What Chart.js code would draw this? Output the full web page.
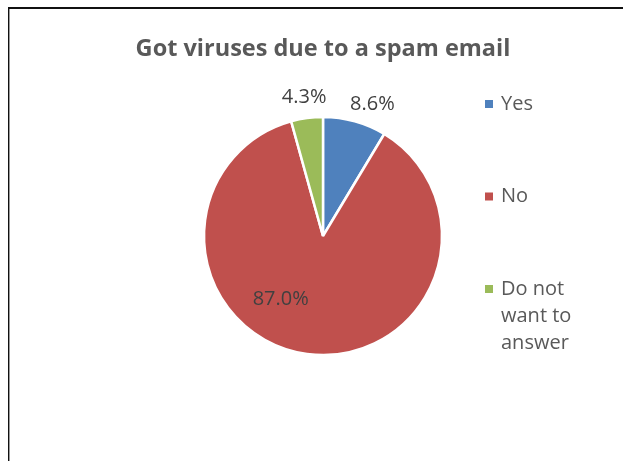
<!DOCTYPE html>
<html>
<head>
<meta charset="utf-8">
<script src="https://cdn.jsdelivr.net/npm/chart.js@4.4.1/dist/chart.umd.min.js"></script>
<style>
  html, body { margin: 0; padding: 0; background: #ffffff; overflow: hidden; }
  canvas { display: block; }
</style>
</head>
<body>
<canvas id="chart" width="623" height="461"></canvas>
<script>
// Survey answers: share of respondents (percent) per answer
const chartTitle = 'Got viruses due to a spam email';
const categories = ['Yes', 'No', 'Do not want to answer'];
const shares = [8.6, 87.0, 4.3];
const sliceColors = ['#4F81BD', '#C0504D', '#9BBB59'];

// Where each value label sits: fraction of the radius, and a turn (degrees) off the slice middle
const labelRadius = [1.185, 0.64, 1.175];
const labelTurn = [5, 26, 0];

const FONT = '"Open Sans", "Noto Sans", sans-serif';
const TEXT_DARK = '#404040';
const TEXT_GREY = '#595959';

// Frame around the chart, white background and the heading centred over the pie
const framePlugin = {
  id: 'frame',
  beforeDraw(chart) {
    const ctx = chart.ctx;
    const area = chart.chartArea;
    ctx.save();
    ctx.fillStyle = '#ffffff';
    ctx.fillRect(0, 0, chart.width, chart.height);
    ctx.fillStyle = '#111111';
    ctx.fillRect(8, 7, chart.width - 8, 2);
    ctx.fillRect(8, 7, 1, chart.height - 7);
    ctx.fillStyle = '#9a9a9a';
    ctx.fillRect(9, 9, 1, chart.height - 9);
    ctx.font = 'bold 23.5px ' + FONT;
    ctx.fillStyle = TEXT_GREY;
    ctx.textAlign = 'center';
    ctx.textBaseline = 'alphabetic';
    ctx.fillText(chartTitle, (area.left + area.right) / 2, 56);
    ctx.restore();
  }
};

// Percentage labels placed from each arc's own geometry
const valueLabelPlugin = {
  id: 'valueLabels',
  afterDatasetsDraw(chart) {
    const ctx = chart.ctx;
    const meta = chart.getDatasetMeta(0);
    const data = chart.data.datasets[0].data;
    ctx.save();
    ctx.font = '20px ' + FONT;
    ctx.fillStyle = TEXT_DARK;
    ctx.textAlign = 'center';
    ctx.textBaseline = 'middle';
    meta.data.forEach((arc, i) => {
      const p = arc.getProps(['x', 'y', 'startAngle', 'endAngle', 'outerRadius'], true);
      const mid = (p.startAngle + p.endAngle) / 2 + labelTurn[i] * Math.PI / 180;
      const r = p.outerRadius * labelRadius[i];
      ctx.fillText(data[i].toFixed(1) + '%', p.x + Math.cos(mid) * r, p.y + Math.sin(mid) * r);
    });
    ctx.restore();
  }
};

// Legend column on the right, with word wrapping for long entries
const sideLegendPlugin = {
  id: 'sideLegend',
  afterDraw(chart) {
    const ctx = chart.ctx;
    const area = chart.chartArea;
    const x0 = area.right + 44;
    const textX = x0 + 16;
    const maxTextWidth = 82;
    const lineHeight = 27;
    const firstY = 104;
    const step = 92.5;
    ctx.save();
    ctx.font = '20px ' + FONT;
    ctx.textBaseline = 'middle';
    ctx.textAlign = 'left';
    chart.data.labels.forEach((label, i) => {
      const y = firstY + step * i;
      ctx.fillStyle = chart.data.datasets[0].backgroundColor[i];
      ctx.fillRect(x0, y - 4, 8, 8);
      // wrap words into lines no wider than maxTextWidth
      const words = label.split(' ');
      const lines = [];
      let line = '';
      words.forEach(w => {
        const test = line ? line + ' ' + w : w;
        if (line && ctx.measureText(test).width > maxTextWidth) {
          lines.push(line);
          line = w;
        } else {
          line = test;
        }
      });
      if (line) lines.push(line);
      ctx.fillStyle = TEXT_GREY;
      lines.forEach((ln, k) => ctx.fillText(ln, textX, y + k * lineHeight));
    });
    ctx.restore();
  }
};

new Chart(document.getElementById('chart'), {
  type: 'pie',
  data: {
    labels: categories,
    datasets: [{
      data: shares,
      backgroundColor: sliceColors,
      borderColor: '#ffffff',
      borderWidth: 2.5
    }]
  },
  options: {
    responsive: false,
    animation: false,
    events: [],
    radius: 119,
    layout: { padding: { left: 205, right: 182, top: 118, bottom: 107 } },
    plugins: {
      legend: { display: false },
      tooltip: { enabled: false },
      title: { display: false }
    }
  },
  plugins: [framePlugin, valueLabelPlugin, sideLegendPlugin]
});
</script>
</body>
</html>
